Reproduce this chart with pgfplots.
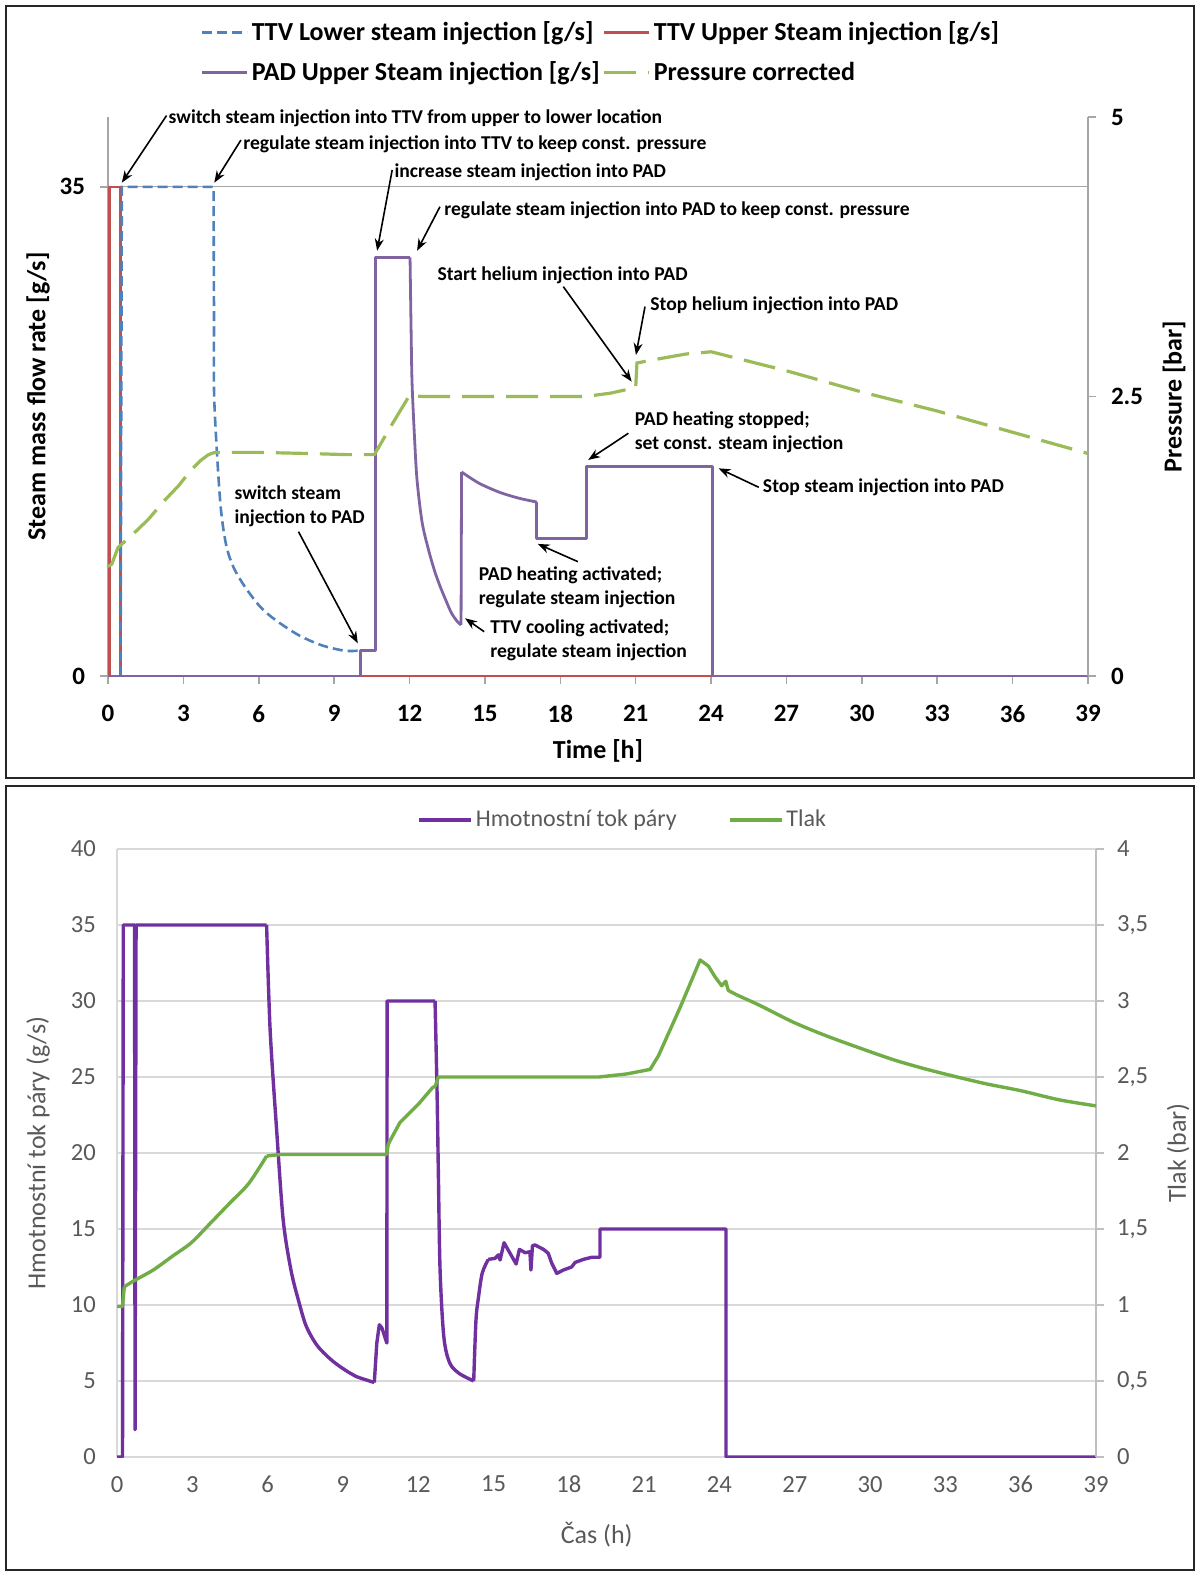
\documentclass[border=0pt]{standalone}
\usepackage{fontspec}
\setmainfont{Carlito}
\usepackage{pgfplots}
\pgfplotsset{compat=1.18}
\usetikzlibrary{arrows.meta}
\definecolor{tred}{HTML}{C0504D}
\definecolor{tblue}{HTML}{4F81BD}
\definecolor{tpurple}{HTML}{8064A2}
\definecolor{tgreen}{HTML}{9BBB59}
\definecolor{bpurple}{HTML}{7030A0}
\definecolor{bgreen}{HTML}{70AD47}
\definecolor{txtgray}{HTML}{595959}
\definecolor{gridgray}{HTML}{D9D9D9}
\definecolor{axgray}{HTML}{A6A6A6}
\definecolor{raxgray}{HTML}{BFBFBF}
\tikzset{
  ann/.style={font=\bfseries\fontsize{9.8}{11.8}\selectfont, anchor=west, inner sep=0pt, align=left},
  arr/.style={-{Stealth[length=6pt,width=4.5pt]}, line width=0.8pt, black},
}
\pgfplotsset{
  tp/.style={tpurple, line width=1.4pt, line join=round, forget plot},
  tb/.style={tblue, line width=1.3pt, dash pattern=on 5pt off 2.5pt, forget plot},
  bp/.style={bpurple, line width=1.7pt, line join=round, forget plot},
  bg/.style={bgreen, line width=1.7pt, line join=round},
}
\begin{document}
\begin{tikzpicture}
\path[use as bounding box] (0,0) rectangle (598pt,785.5pt);
\draw[line width=0.9pt, black!85] (3pt,396.5pt) rectangle (597pt,782.5pt);
\draw[line width=0.9pt, black!85] (3pt,0.5pt) rectangle (597pt,392.5pt);

% ---------- top panel: flow rates (left axis)
\begin{axis}[
  at={(54pt,447.5pt)}, anchor=south west,
  width=490pt, height=279.5pt, scale only axis,
  xmin=0, xmax=39, ymin=0, ymax=40,
  axis x line*=bottom, axis y line*=left,
  axis line style={axgray, line width=0.8pt},
  xtick={0,3,...,39}, ytick={0,35},
  ymajorgrids, grid style={axgray, line width=0.6pt},
  tick align=outside, major tick length=4pt,
  tick style={axgray, line width=0.8pt},
  /pgf/number format/assume math mode=true,
  ticklabel style={font=\bfseries\fontsize{12.5}{14}\selectfont},
  xticklabel style={yshift=-7pt},
  yticklabel style={xshift=-4pt},
  xlabel={Time [h]}, ylabel={Steam mass flow rate [g/s]},
  label style={font=\bfseries\fontsize{13}{15}\selectfont},
  xlabel style={at={(axis description cs:0.5,-0.134)}, anchor=center},
  ylabel style={at={(axis description cs:-0.0714,0.5)}, anchor=center},
  clip=false,
  legend columns=2,
  legend cell align=left,
  legend style={draw=none, fill=none, at={(0.5036,1.1154)}, anchor=center,
    font=\bfseries\fontsize{13}{15}\selectfont, row sep=6pt,
    nodes={inner sep=1.5pt}},
  legend image code/.code={\draw[#1] (0pt,0pt) -- (22.5pt,0pt);},
]
\addlegendimage{tblue, line width=1.3pt, dash pattern=on 5pt off 2.5pt}
\addlegendentry{TTV Lower steam injection [g/s]}
\addlegendimage{tred, line width=1.3pt}
\addlegendentry{TTV Upper Steam injection [g/s]}
\addlegendimage{tpurple, line width=1.4pt}
\addlegendentry{PAD Upper Steam injection [g/s]}
\addlegendimage{tgreen, line width=1.6pt, dash pattern=on 16pt off 6pt}
\addlegendentry{Pressure corrected}

\addplot[tred, line width=1.3pt, forget plot] coordinates {
(0.05,0) (0.05,35) (0.5,35) (0.5,0) (39,0)};
\addplot[tb] coordinates {(0.5,0) (0.55,35) (4.2,35) (4.22,25)};
\addplot[tb, smooth] coordinates {
(4.22,25) (4.23,19.7) (4.46,12.6) (4.69,9.48) (4.99,7.8)
(5.45,6.38) (6.06,4.95) (6.67,4.0) (7.58,2.93) (8.5,2.2) (9.41,1.81) (9.94,1.81)};
\addplot[tp] coordinates {
(0,0) (10.05,0) (10.05,1.8) (10.63,1.8) (10.63,29.95) (12.02,29.95)};
\addplot[tp, smooth] coordinates {
(12.02,29.95) (12.06,25) (12.1,21) (12.2,17) (12.3,14) (12.5,11) (12.76,9) (13.0,7.5)
(13.22,6.4) (13.45,5.4) (13.67,4.5) (13.9,3.9) (14.05,3.65)};
\addplot[tp] coordinates {(14.05,3.65) (14.07,14.6)};
\addplot[tp, smooth] coordinates {
(14.07,14.6) (14.4,14.2) (14.8,13.76) (15.3,13.35) (15.73,13.05) (16.4,12.7) (17.06,12.45)};
\addplot[tp] coordinates {
(17.06,12.45) (17.06,9.83) (19.05,9.83) (19.05,15.0) (24.06,15.0) (24.06,0) (39,0)};

\node[ann] at (axis cs:2.40,39.88) {switch steam injection into TTV from upper to lower location};
\draw[arr] (axis cs:2.33,40.1) -- (axis cs:0.55,35.3);
\node[ann] at (axis cs:5.37,38.07) {regulate steam injection into TTV to keep const. pressure};
\draw[arr] (axis cs:5.29,38.35) -- (axis cs:4.23,35.3);
\node[ann] at (axis cs:11.39,36.04) {increase steam injection into PAD};
\draw[arr] (axis cs:11.31,36.21) -- (axis cs:10.71,30.43);
\node[ann] at (axis cs:13.37,33.35) {regulate steam injection into PAD to keep const. pressure};
\draw[arr] (axis cs:13.21,33.58) -- (axis cs:12.30,30.43);
\node[ann] at (axis cs:13.10,28.69) {Start helium injection into PAD};
\draw[arr] (axis cs:18.12,27.86) -- (axis cs:20.84,21.06);
\node[ann] at (axis cs:21.57,26.55) {Stop helium injection into PAD};
\draw[arr] (axis cs:21.37,26.43) -- (axis cs:21.01,22.97);
\node[ann] at (axis cs:20.95,17.42) {PAD heating stopped;\\set const. steam injection};
\draw[arr] (axis cs:20.71,17.37) -- (axis cs:19.11,15.46);
\node[ann] at (axis cs:26.05,13.47) {Stop steam injection into PAD};
\draw[arr] (axis cs:25.90,13.50) -- (axis cs:24.30,14.86);
\node[ann] at (axis cs:5.02,12.15) {switch steam\\injection to PAD};
\draw[arr] (axis cs:7.58,10.33) -- (axis cs:9.94,2.34);
\node[ann] at (axis cs:14.74,6.35) {PAD heating activated;\\regulate steam injection};
\draw[arr] (axis cs:18.70,8.18) -- (axis cs:17.10,9.45);
\node[ann] at (axis cs:15.20,2.54) {TTV cooling activated;\\regulate steam injection};
\draw[arr] (axis cs:14.97,3.17) -- (axis cs:14.21,4.13);
\end{axis}

% ---------- top panel: pressure (right axis)
\begin{axis}[
  at={(54pt,447.5pt)}, anchor=south west,
  width=490pt, height=279.5pt, scale only axis,
  xmin=0, xmax=39, ymin=0, ymax=5,
  axis y line*=right, axis x line=none,
  axis line style={axgray, line width=0.8pt},
  ytick={0,2.5,5},
  tick align=outside, major tick length=4pt,
  tick style={axgray, line width=0.8pt},
  /pgf/number format/assume math mode=true,
  ticklabel style={font=\bfseries\fontsize{12.5}{14}\selectfont},
  yticklabel style={xshift=4pt},
  ylabel={Pressure [bar]},
  label style={font=\bfseries\fontsize{13}{15}\selectfont},
  ylabel style={at={(axis description cs:1.0878,0.5)}, anchor=center},
]
\addplot[tgreen, line width=1.6pt, dash pattern=on 16pt off 6pt] coordinates {
(0,0.98) (0.15,1.0) (0.4,1.15) (1,1.27) (1.6,1.4) (2.25,1.57) (2.8,1.7) (3.3,1.84)
(3.7,1.93) (4.0,1.98) (4.25,2.0) (6,2.0) (8,1.99) (9.5,1.98) (10.6,1.98) (11.3,2.25)
(12.0,2.51) (12.5,2.5) (19,2.5) (20,2.53) (21.0,2.58) (21.05,2.8) (22,2.84) (23,2.88)
(24,2.9) (27,2.73) (30,2.54) (33,2.37) (36,2.18) (39,1.99)};
\end{axis}

% ---------- bottom panel: mass flow (left axis)
\begin{axis}[
  at={(58.5pt,57pt)}, anchor=south west,
  width=489.5pt, height=304pt, scale only axis,
  xmin=0, xmax=39, ymin=0, ymax=40,
  axis x line*=bottom, axis y line*=left,
  axis line style={gridgray, line width=0.8pt},
  xtick={0,3,...,39}, ytick={0,5,...,40},
  ymajorgrids, grid style={gridgray, line width=0.8pt},
  major tick length=0pt,
  /pgf/number format/assume math mode=true,
  ticklabel style={font=\fontsize{12.3}{14}\selectfont, text=txtgray},
  xticklabel style={yshift=-6pt},
  yticklabel style={xshift=-7pt},
  xlabel={Čas (h)}, ylabel={Hmotnostní tok páry (g/s)},
  label style={font=\fontsize{13}{15}\selectfont, text=txtgray},
  xlabel style={at={(axis description cs:0.49,-0.1283)}, anchor=center},
  ylabel style={at={(axis description cs:-0.0807,0.5)}, anchor=center},
  legend columns=2,
  legend cell align=left,
  legend style={draw=none, fill=none, at={(0.517,1.0477)}, anchor=center,
    font=\fontsize{12}{14}\selectfont, text=txtgray,
    nodes={inner sep=1.5pt},
    /tikz/every even column/.append style={column sep=24pt}},
  legend image code/.code={\draw[#1] (0pt,0pt) -- (26pt,0pt);},
]
\addlegendimage{bpurple, line width=1.8pt}
\addlegendentry{Hmotnostní tok páry}
\addlegendimage{bgreen, line width=1.8pt}
\addlegendentry{Tlak}
\addplot[bp] coordinates {
(0,0) (0.22,0) (0.25,35) (0.7,35) (0.72,1.8) (0.76,35) (5.96,35)};
\addplot[bp, smooth] coordinates {
(5.96,35) (6.1,28.1) (6.36,21.5) (6.62,15.6) (6.93,12.3) (7.23,10.3) (7.54,8.6) (7.99,7.3)
(8.6,6.3) (9.2,5.6) (9.52,5.3) (10.25,4.9)};
\addplot[bp] coordinates {
(10.25,4.9) (10.35,7.5) (10.45,8.7) (10.55,8.5) (10.75,7.5) (10.76,30) (12.67,30)};
\addplot[bp, smooth] coordinates {
(12.67,30) (12.75,24) (12.8,18.9) (12.87,12.3) (13.02,7.9) (13.25,6.2) (13.63,5.5) (14.21,5.0)};
\addplot[bp, smooth] coordinates {
(14.21,5.0) (14.3,9.0) (14.4,10.5) (14.55,12.1) (14.79,13.0)};
\addplot[bp] coordinates {
(14.79,13.0) (15.06,13.07) (15.2,13.3) (15.26,12.96) (15.42,14.1)
(15.59,13.6) (15.9,12.7) (16.03,13.66) (16.26,13.44) (16.45,13.5) (16.49,12.3) (16.55,13.9)
(16.65,13.95) (16.99,13.66) (17.18,13.4) (17.32,12.74) (17.52,12.08) (17.78,12.3) (18.11,12.5)
(18.25,12.8) (18.58,13.0) (18.91,13.14) (19.24,13.14) (19.24,15) (24.26,15) (24.26,0) (39,0)};
\end{axis}

% ---------- bottom panel: pressure (right axis)
\begin{axis}[
  at={(58.5pt,57pt)}, anchor=south west,
  width=489.5pt, height=304pt, scale only axis,
  xmin=0, xmax=39, ymin=0, ymax=4,
  axis y line*=right, axis x line=none,
  axis line style={raxgray, line width=0.8pt},
  ytick={0,0.5,...,4},
  tick align=outside, major tick length=4pt,
  tick style={raxgray, line width=0.8pt},
  /pgf/number format/assume math mode=true,
  /pgf/number format/use comma,
  ticklabel style={font=\fontsize{12.3}{14}\selectfont, text=txtgray},
  yticklabel style={xshift=3pt},
  ylabel={Tlak (bar)},
  label style={font=\fontsize{13}{15}\selectfont, text=txtgray},
  ylabel style={at={(axis description cs:1.0838,0.5)}, anchor=center},
]
\addplot[bg] coordinates {(0,0.99) (0.22,0.99) (0.29,1.12)};
\addplot[bg, smooth] coordinates {
(0.29,1.12) (0.68,1.16) (1.44,1.23) (2.2,1.32) (2.96,1.41) (3.73,1.54)
(4.49,1.67) (5.25,1.8) (5.96,1.98)};
\addplot[bg] coordinates {
(5.96,1.98) (6.49,1.99) (10.74,1.99) (10.81,2.06) (11.27,2.2) (12.0,2.32)
(12.57,2.43) (12.68,2.44) (12.8,2.5) (19.2,2.5) (20.3,2.52) (21.24,2.55) (21.57,2.64) (22.44,2.96)
(23.23,3.27) (23.56,3.23) (23.82,3.16) (24.09,3.1) (24.25,3.13) (24.35,3.07) (24.69,3.04)};
\addplot[bg, smooth] coordinates {
(24.69,3.04) (25.62,2.97) (26.95,2.86) (28.27,2.77) (29.6,2.69) (31,2.61) (32.5,2.54)
(34.49,2.46) (36,2.41) (37.53,2.35) (39,2.31)};
\end{axis}
\end{tikzpicture}
\end{document}
